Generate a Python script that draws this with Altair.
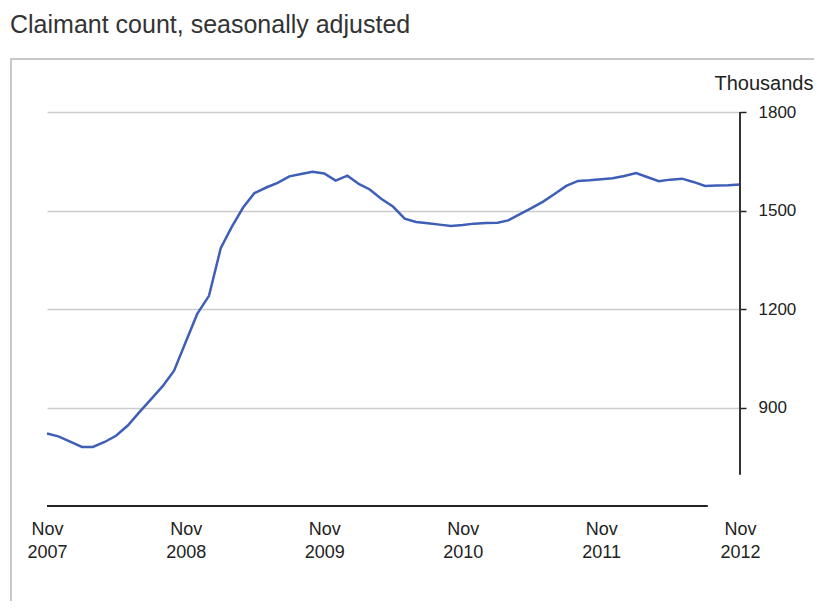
import altair as alt
import pandas as pd

# Monthly claimant count (thousands), Nov 2007 - Nov 2012
start_month = "2007-11-01"
claimants = [
    821, 812, 796, 780, 780, 795, 814, 845, 885, 925, 965, 1012,
    1100, 1185, 1240, 1385, 1448, 1509, 1553, 1570, 1584, 1604, 1611, 1618,
    1613, 1591, 1606, 1580, 1564, 1535, 1512, 1475, 1465, 1461, 1457, 1453,
    1456, 1460, 1462, 1463, 1470, 1489, 1507, 1527, 1550, 1575, 1590, 1592,
    1595, 1598, 1605, 1614, 1602, 1589, 1594, 1597, 1587, 1575, 1576, 1577,
    1579,
]
y_ticks = [900, 1200, 1500, 1800]
x_tick_years = [2007, 2008, 2009, 2010, 2011, 2012]
chart_title = "Claimant count, seasonally adjusted"

dates = pd.date_range(start_month, periods=len(claimants), freq="MS")
df = pd.DataFrame({"date": dates.strftime("%Y-%m-%d"), "value": claimants})

W, H = 693, 394
FONT = "Liberation Sans"

x_scale = alt.Scale(
    type="utc",
    domain=[alt.DateTime(year=2007, month=11, date=1, utc=True),
            alt.DateTime(year=2012, month=11, date=1, utc=True)],
)
y_scale = alt.Scale(domain=[600, 1800], nice=False, zero=False)

x_axis = alt.Axis(
    values=[alt.DateTime(year=y, month=11, date=1, utc=True) for y in x_tick_years],
    labelExpr="[utcFormat(datum.value, '%b'), utcFormat(datum.value, '%Y')]",
    domain=False, ticks=False, grid=False, title=None,
    labelFont=FONT, labelFontSize=18, labelColor="#222",
    labelLineHeight=23, labelBaseline="top", labelPadding=14,
    labelFlush=False,
)
y_axis = alt.Axis(
    orient="right", values=y_ticks, format="d", domain=False,
    grid=True, gridColor="#cccccc", gridWidth=1.5,
    ticks=True, tickSize=6, tickColor="#222", tickWidth=1.5,
    labelFont=FONT, labelFontSize=17, labelColor="#222", labelPadding=12,
    labelBaseline="middle",
    title="Thousands", titleAngle=0, titleFont=FONT, titleFontSize=20,
    titleFontWeight="normal", titleColor="#222", titleAlign="right",
    titleBaseline="middle", titleX=73, titleY=-29,
)

blank = alt.Data(values=[{}])

frame = alt.Chart(blank).mark_rect(
    fillOpacity=0, stroke="#c8c8c8", strokeWidth=2
).encode(
    x=alt.value(-36), x2=alt.value(800), y=alt.value(-53), y2=alt.value(620)
)

title_text = alt.Chart(blank).mark_text(
    align="left", baseline="alphabetic", font=FONT, fontSize=25, color="#333"
).encode(x=alt.value(-37), y=alt.value(-79), text=alt.value(chart_title))

line = alt.Chart(df).mark_line(color="#3f5fb7", strokeWidth=2.5).encode(
    x=alt.X("date:T", scale=x_scale, axis=x_axis),
    y=alt.Y("value:Q", scale=y_scale, axis=y_axis),
)

x_base = alt.Chart(blank).mark_rule(color="#222", strokeWidth=2).encode(
    x=alt.datum(alt.DateTime(year=2007, month=11, date=1, utc=True)),
    x2=alt.datum(alt.DateTime(year=2012, month=8, date=8, utc=True)),
    y=alt.datum(600),
)

y_base = alt.Chart(blank).mark_rule(color="#333", strokeWidth=2).encode(
    x=alt.datum(alt.DateTime(year=2012, month=11, date=1, utc=True)),
    y=alt.datum(695),
    y2=alt.datum(1800),
)

chart = alt.layer(frame, title_text, line, x_base, y_base).properties(
    width=W, height=H,
    autosize=alt.AutoSizeParams(type="none"),
    padding={"left": 39, "top": 104, "right": 74, "bottom": 95},
).configure_view(stroke=None)

chart.save("out.html", embed_options={"renderer": "svg", "actions": False})
